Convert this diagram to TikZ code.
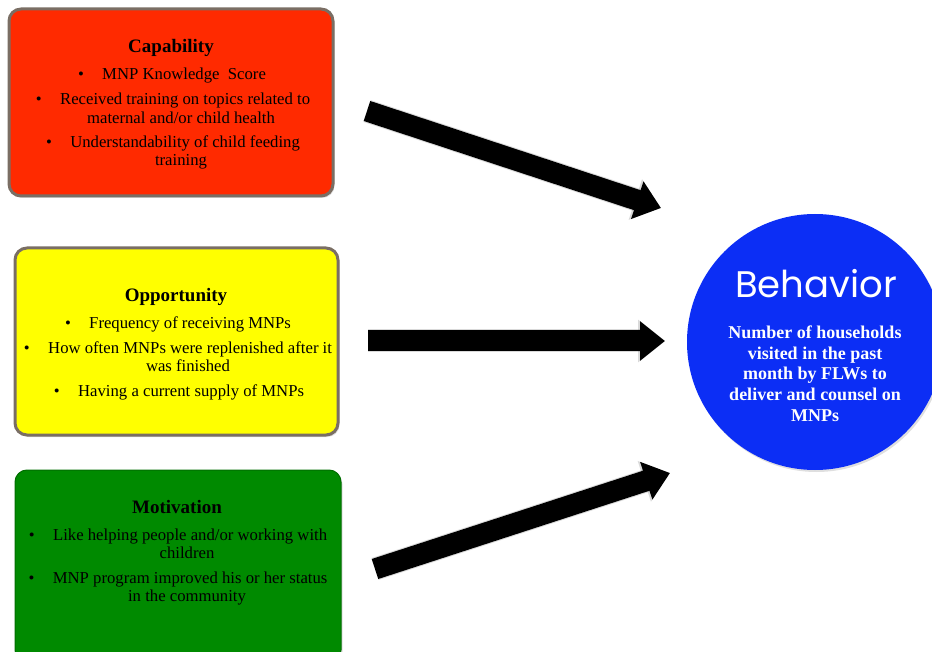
\documentclass[tikz,border=0pt]{standalone}
\usepackage{fontspec}
\setmainfont{Liberation Serif}
\newfontfamily\behfont{Poppins}
\usetikzlibrary{arrows.meta,shadows}
\definecolor{capred}{HTML}{FF2A00}
\definecolor{oppyel}{HTML}{FFFF00}
\definecolor{motgrn}{HTML}{008A00}
\definecolor{motedge}{HTML}{006E00}
\definecolor{behblue}{HTML}{0C2EF5}
\definecolor{boxedge}{HTML}{7A6E64}
\tikzset{
  factorbox/.style={rounded corners=12pt, line width=3pt,
    drop shadow={opacity=0.25, shadow xshift=1.5pt, shadow yshift=-2pt}},
  ttl/.style={anchor=base, inner sep=0pt, font=\fontsize{19}{22}\selectfont\bfseries},
  itm/.style={anchor=base, inner sep=0pt, font=\fontsize{16.7}{18.5}\selectfont},
  wtxt/.style={anchor=base, inner sep=0pt, text=white, font=\fontsize{18}{20.5}\selectfont\bfseries},
  bigarrow/.style={line width=21pt, -{Triangle[length=25pt,width=38pt]}, black},
  arrowshadow/.style={line width=23pt, -{Triangle[length=27pt,width=41pt]}, black, opacity=0.15}
}
\newcommand{\bul}{\textbullet\hspace{1.1em}}
\begin{document}
\begin{tikzpicture}[x=1pt,y=-1pt]
\useasboundingbox (0,0) rectangle (932,652);
\begin{scope}
\clip (0,0) rectangle (932,652);
% boxes
\draw[factorbox, draw=boxedge, fill=capred] (9,9) rectangle (333,196);
\draw[factorbox, draw=boxedge, fill=oppyel] (15,248) rectangle (338,435);
\draw[factorbox, draw=motedge, line width=1pt, fill=motgrn] (15,470) rectangle (341,662);
% circle
\node[circle, fill=behblue, minimum size=256pt, inner sep=0pt,
  drop shadow={opacity=0.25, shadow xshift=1.5pt, shadow yshift=-2pt}] (beh) at (815,342) {};
\end{scope}

% Capability
\node[ttl] (capt) at (171,53) {Capability};
\node[itm] (cap1) at (172,80) {\bul MNP Knowledge\ \ Score};
\node[itm] (cap2) at (173,105) {\bul Received training on topics related to};
\node[itm] (cap3) at (181,123.5) {maternal and/or child health};
\node[itm] (cap4) at (173,147.5) {\bul Understandability of child feeding};
\node[itm] (cap5) at (181,166) {training};

% Opportunity
\node[ttl] (oppt) at (176,302) {Opportunity};
\node[itm] (opp1) at (178,328.5) {\bul Frequency of receiving MNPs};
\node[itm] (opp2) at (178,353.5) {\bul How often MNPs were replenished after it};
\node[itm] (opp3) at (188,371.5) {was finished};
\node[itm] (opp4) at (179,396.5) {\bul Having a current supply of MNPs};

% Motivation
\node[ttl] (mott) at (177,513) {Motivation};
\node[itm] (mot1) at (178,540.5) {\bul Like helping people and/or working with};
\node[itm] (mot2) at (187,558.5) {children};
\node[itm] (mot3) at (178,583.5) {\bul MNP program improved his or her status};
\node[itm] (mot4) at (187,601.5) {in the community};

% Behavior
\node[anchor=base, inner sep=0pt, text=white, font=\behfont\fontsize{37}{40}\selectfont] (behttl) at (816,298) {Behavior};
\node[wtxt] (beh1) at (815,339) {Number of households};
\node[wtxt] (beh2) at (815,359.5) {visited in the past};
\node[wtxt] (beh3) at (815,380) {month by FLWs to};
\node[wtxt] (beh4) at (815,400.5) {deliver and counsel on};
\node[wtxt] (beh5) at (815,421) {MNPs};

% arrows
\coordinate (a1s) at (367,111);
\coordinate (a1e) at (661,208);
\coordinate (a2s) at (368,341);
\coordinate (a2e) at (665,341);
\coordinate (a3s) at (375,569);
\coordinate (a3e) at (670,473);
\begin{scope}[xshift=1.5pt, yshift=-2.5pt]
\draw[arrowshadow] (a1s) -- (a1e);
\draw[arrowshadow] (a2s) -- (a2e);
\draw[arrowshadow] (a3s) -- (a3e);
\end{scope}
\draw[bigarrow] (a1s) -- (a1e);
\draw[bigarrow] (a2s) -- (a2e);
\draw[bigarrow] (a3s) -- (a3e);
\end{tikzpicture}
\end{document}
